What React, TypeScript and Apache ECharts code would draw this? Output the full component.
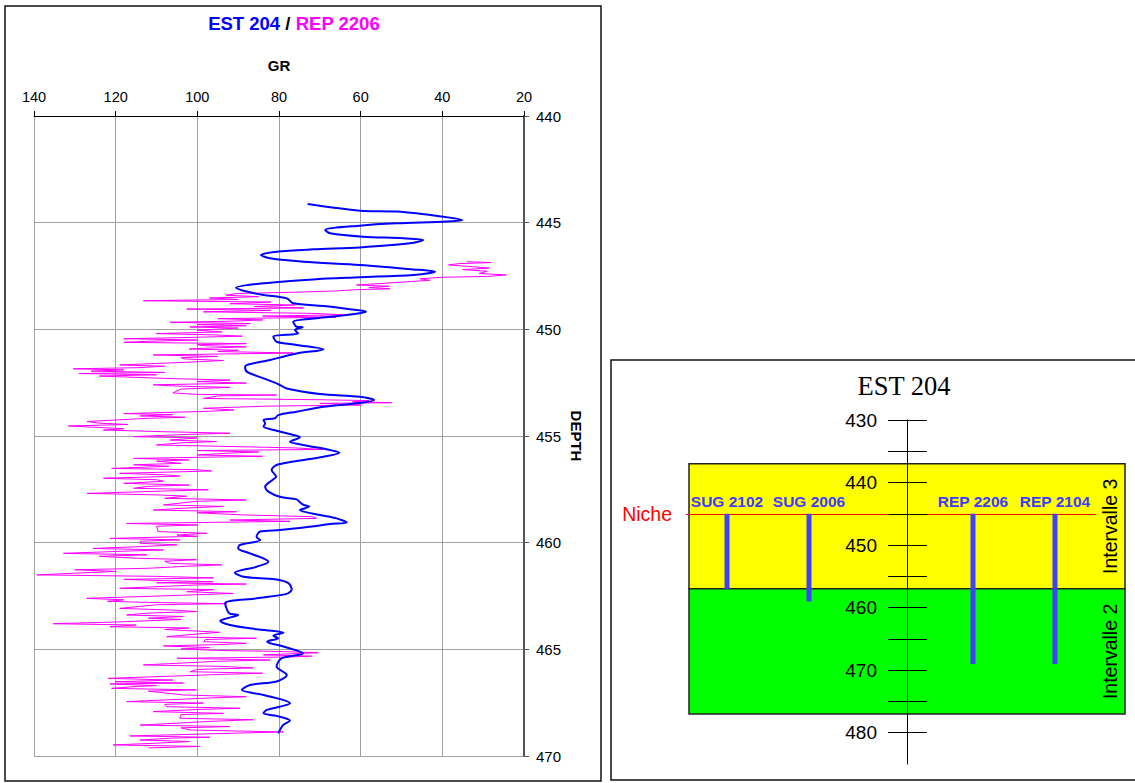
import React, { useEffect, useRef } from "react";
import * as echarts from "echarts";

// ---------- DATA ----------
// GR log axis ticks (inverted scale) and depth ticks
const grTicks = [20, 40, 60, 80, 100, 120, 140];
const depthTicks = [440, 445, 450, 455, 460, 465, 470];

// EST 204 GR log: [depth, GR]
const est204: [number, number][] = [
  [444.13, 73.0], [444.44, 60.2], [444.48, 51.2], [444.72, 39.8], [444.88, 35.1], [444.95, 38.9],
  [445.03, 51.2], [445.14, 60.2], [445.34, 68.7], [445.5, 67.5], [445.66, 59.4], [445.73, 49.6],
  [445.81, 44.7], [445.97, 47.9], [446.16, 60.2], [446.25, 71.6], [446.36, 80.6], [446.52, 84.4],
  [446.67, 82.2], [446.83, 74.0], [446.98, 60.2], [447.19, 47.1], [447.3, 41.8], [447.45, 47.1],
  [447.56, 60.2], [447.66, 71.6], [447.84, 83.8], [448.05, 90.5], [448.23, 87.9], [448.39, 83.8],
  [448.55, 78.1], [448.78, 76.5], [448.91, 69.1], [449.06, 62.6], [449.17, 58.7], [449.33, 63.4],
  [449.48, 70.8], [449.64, 76.5], [449.88, 75.7], [449.9, 74.2], [450.03, 76.1], [450.19, 75.3],
  [450.34, 81.4], [450.58, 80.6], [450.73, 75.7], [450.94, 69.1], [451.13, 75.7], [451.44, 82.2],
  [451.75, 88.3], [451.98, 87.9], [452.3, 83.8], [452.53, 80.6], [452.77, 78.1], [453.03, 70.0],
  [453.16, 60.2], [453.31, 56.7], [453.47, 61.0], [453.63, 69.1], [453.86, 75.7], [454.02, 80.2],
  [454.17, 81.0], [454.25, 83.8], [454.41, 83.4], [454.56, 83.8], [454.75, 80.6], [454.95, 76.5],
  [455.06, 74.9], [455.27, 77.3], [455.42, 74.0], [455.66, 67.5], [455.78, 65.2], [455.97, 69.1],
  [456.2, 76.5], [456.36, 80.6], [456.59, 81.8], [456.91, 80.7], [457.03, 81.4], [457.38, 83.4],
  [457.61, 82.6], [457.85, 79.8], [457.97, 75.7], [458.08, 75.0], [458.23, 74.0], [458.31, 72.6],
  [458.47, 74.9], [458.7, 70.0], [458.86, 65.9], [459.05, 63.4], [459.13, 67.5], [459.25, 72.4],
  [459.41, 79.8], [459.48, 84.6], [459.72, 85.5], [459.88, 84.6], [460.11, 89.6], [460.27, 90.0],
  [460.5, 87.1], [460.89, 82.6], [461.13, 85.5], [461.41, 90.8], [461.6, 88.7], [461.72, 81.0],
  [461.9, 77.7], [462.19, 76.9], [462.4, 78.1], [462.61, 85.5], [462.84, 93.2], [463.31, 92.2],
  [463.39, 90.0], [463.55, 92.8], [463.66, 94.4], [463.86, 92.0], [464.06, 85.5], [464.22, 78.9],
  [464.36, 81.4], [464.48, 80.2], [464.64, 82.9], [464.87, 78.9], [465.19, 74.1], [465.42, 79.4],
  [465.81, 80.6], [466.2, 78.1], [466.51, 80.6], [466.67, 87.1], [466.91, 89.1], [467.14, 83.8],
  [467.53, 77.3], [467.84, 83.0], [468.0, 83.8], [468.12, 80.6], [468.34, 77.3], [468.55, 79.0],
  [468.94, 80.2],
];

// REP 2206 GR log: [depth, GR]
const rep2206: [number, number][] = [
  [446.83, 34.0], [446.87, 28.0], [446.92, 36.0], [446.98, 38.5],
  [447.06, 33.0], [447.13, 28.5], [447.2, 35.0], [447.28, 29.0],
  [447.38, 31.0], [447.45, 24.3], [447.52, 29.0], [447.56, 40.0],
  [447.63, 45.5], [447.7, 43.0],
  [447.85, 55.0], [447.92, 61.0], [447.98, 53.0], [448.04, 58.0], [448.1, 52.8], [448.14, 61.0],
  [448.2, 66.0], [448.26, 76.0], [448.32, 90.4],
  [448.4, 93.0], [448.47, 85.0], [448.53, 97.0], [448.6, 90.0],
  [448.66, 113.2], [448.72, 82.0],
  [448.8, 92.0], [448.86, 76.0], [448.93, 86.0], [449.0, 74.0],
  [449.05, 102.6], [449.11, 82.0],
  [449.18, 98.5], [449.25, 72.0], [449.32, 64.3],
  [449.38, 84.0], [449.43, 66.0],
  [449.5, 95.0], [449.56, 84.0], [449.62, 92.0],
  [449.67, 106.7], [449.73, 87.0], [449.78, 100.0],
  [449.83, 88.0], [449.89, 101.8], [449.94, 90.0],
  [450.04, 100.0], [450.12, 94.0],
  [450.2, 110.0], [450.26, 96.0], [450.32, 89.0], [450.39, 104.0],
  [450.44, 118.0], [450.5, 100.0], [450.56, 112.0],
  [450.61, 118.0], [450.67, 88.0], [450.72, 100.0],
  [450.77, 98.0], [450.82, 88.0], [450.87, 96.0],
  [450.92, 102.0], [450.98, 90.0], [451.04, 95.0], [451.11, 76.5],
  [451.2, 110.8], [451.27, 95.0], [451.33, 104.0],
  [451.39, 103.0], [451.46, 93.6], [451.54, 102.0],
  [451.6, 110.0], [451.67, 119.0], [451.73, 108.0], [451.8, 115.0],
  [451.85, 130.4], [451.9, 118.0], [451.96, 126.0], [452.02, 108.0],
  [452.07, 129.0], [452.13, 110.0], [452.19, 124.0],
  [452.3, 108.0], [452.38, 92.0], [452.45, 100.0], [452.52, 88.0],
  [452.6, 110.8], [452.66, 105.0], [452.72, 92.0], [452.8, 104.0],
  [452.98, 106.0], [453.05, 100.0], [453.08, 80.6], [453.12, 95.0],
  [453.24, 98.5], [453.3, 70.0], [453.34, 58.0], [453.4, 62.0], [453.44, 52.4], [453.47, 70.0],
  [453.55, 60.0], [453.6, 83.0],
  [453.7, 98.5], [453.78, 91.0], [453.84, 97.0],
  [453.95, 118.0], [454.0, 106.0], [454.06, 114.0], [454.12, 103.0], [454.17, 112.0],
  [454.25, 120.0], [454.32, 127.0], [454.4, 124.0], [454.46, 117.0], [454.53, 131.6],
  [454.6, 124.0], [454.66, 118.0], [454.72, 123.0],
  [454.8, 108.0], [454.87, 92.0], [454.93, 103.0],
  [455.03, 115.6], [455.09, 100.0],
  [455.19, 106.7], [455.26, 95.3], [455.32, 104.0],
  [455.42, 110.0], [455.5, 90.0], [455.56, 76.0], [455.63, 69.1],
  [455.68, 100.0], [455.75, 85.0], [455.8, 92.0],
  [455.89, 100.0], [455.95, 84.0],
  [456.05, 115.6], [456.12, 102.0], [456.18, 110.0],
  [456.28, 104.0], [456.35, 115.6], [456.42, 107.0],
  [456.52, 121.0], [456.58, 100.0], [456.64, 96.5],
  [456.75, 119.0], [456.82, 108.0], [456.88, 104.3],
  [456.98, 123.0], [457.05, 110.0], [457.12, 108.3],
  [457.22, 118.0], [457.3, 102.0], [457.36, 112.0],
  [457.45, 115.6], [457.52, 97.3], [457.58, 108.0],
  [457.69, 127.0], [457.76, 110.0], [457.82, 102.6],
  [457.92, 108.0], [458.0, 88.0], [458.06, 100.0],
  [458.23, 108.3], [458.3, 93.6], [458.37, 102.0],
  [458.47, 110.8], [458.55, 90.4], [458.6, 100.0],
  [458.7, 88.7], [458.78, 72.0], [458.86, 70.8],
  [458.94, 92.0], [459.0, 77.3],
  [459.1, 117.3], [459.17, 100.0], [459.23, 110.0],
  [459.48, 109.6], [459.56, 97.7], [459.64, 105.0], [459.7, 100.0],
  [459.8, 121.4], [459.87, 104.3], [459.93, 114.0],
  [460.03, 114.0], [460.1, 105.0], [460.17, 112.0],
  [460.27, 125.5], [460.34, 108.3], [460.4, 118.0],
  [460.5, 132.8], [460.57, 112.4], [460.64, 124.0],
  [460.73, 114.9], [460.8, 100.2], [460.87, 108.0],
  [460.97, 106.7], [461.04, 94.0], [461.1, 102.0],
  [461.2, 112.0], [461.27, 130.0], [461.35, 120.0], [461.43, 130.0], [461.51, 139.3],
  [461.58, 110.0], [461.65, 96.0], [461.72, 118.0],
  [461.78, 108.3], [461.83, 96.1],
  [461.88, 110.0], [461.94, 88.0], [461.98, 100.0],
  [462.14, 119.0], [462.2, 96.0],
  [462.3, 102.6], [462.38, 91.2], [462.44, 100.0],
  [462.61, 127.1], [462.68, 118.0], [462.75, 122.0],
  [462.8, 112.0], [462.86, 92.8], [462.91, 110.0],
  [463.08, 119.0], [463.16, 106.0], [463.23, 100.2], [463.3, 112.0],
  [463.39, 117.3], [463.46, 103.4], [463.54, 112.0], [463.6, 104.0],
  [463.72, 120.0], [463.8, 135.3], [463.86, 115.0],
  [463.94, 121.4], [464.0, 102.0], [464.07, 108.0],
  [464.12, 102.6], [464.2, 94.5], [464.28, 100.0],
  [464.41, 107.5], [464.48, 85.5], [464.54, 98.0],
  [464.64, 98.5], [464.72, 88.0], [464.78, 95.0],
  [464.84, 108.3], [464.92, 97.0], [464.98, 104.0],
  [465.05, 95.3], [465.1, 80.0], [465.16, 70.4],
  [465.26, 83.8], [465.32, 72.0], [465.36, 78.0],
  [465.42, 105.0], [465.5, 82.2], [465.56, 95.0],
  [465.73, 113.2], [465.8, 94.0], [465.87, 86.3], [465.94, 100.0],
  [466.05, 101.8], [466.12, 84.0], [466.18, 95.0],
  [466.36, 121.8], [466.44, 106.0], [466.52, 120.0], [466.58, 103.4],
  [466.62, 121.4], [466.7, 110.0], [466.74, 115.0],
  [466.83, 121.0], [466.9, 100.2], [466.96, 112.0],
  [467.14, 103.4], [467.22, 88.0], [467.28, 97.0],
  [467.45, 117.3], [467.52, 98.5], [467.58, 108.0],
  [467.69, 107.5], [467.76, 89.6], [467.82, 100.0],
  [467.92, 110.8], [468.0, 93.6], [468.06, 104.0],
  [468.23, 104.3], [468.3, 86.3], [468.37, 96.0],
  [468.55, 114.0], [468.62, 92.0], [468.68, 104.0],
  [468.78, 101.8], [468.83, 90.0], [468.87, 78.9],
  [469.06, 116.5], [469.12, 97.0], [469.16, 106.0],
  [469.25, 114.0], [469.32, 101.8], [469.4, 110.0],
  [469.48, 120.6], [469.55, 99.4], [469.62, 112.0],
];

// Right-hand scheme (EST 204)
const schemeTicks = [430, 435, 440, 445, 450, 455, 460, 465, 470, 475, 480];
const schemeLabels = [430, 440, 450, 460, 470, 480];
const intervalNames = ["Intervalle 3", "Intervalle 2"];
const intervalTops = [437, 457];
const intervalBottoms = [457, 477];
const nicheDepth = 445;
const wellSlots = ["SUG 2102", "SUG 2006", "", "REP 2206", "REP 2104"];
const wellNames = ["SUG 2102", "SUG 2006", "REP 2206", "REP 2104"];
const wellBottoms = [457, 459, 469, 469];

const SANS = "'Liberation Sans', Arial, sans-serif";
const SERIF = "'Liberation Serif', 'Times New Roman', serif";

export default function App() {
  const ref = useRef<HTMLDivElement>(null);

  useEffect(() => {
    if (!ref.current) return;
    const chart = echarts.init(ref.current, undefined, { renderer: "svg" });
    const intervalColors = ["#ffff00", "#00ff00"];

    const option: any = {
      animation: false,
      backgroundColor: "#ffffff",
      grid: [
        { left: 34, top: 116, width: 490, height: 640 },
        { left: 689, top: 420, width: 436, height: 344 },
        { left: 686, top: 420, width: 410, height: 344 },
      ],
      xAxis: [
        {
          type: "value",
          gridIndex: 0,
          position: "top",
          inverse: true,
          min: grTicks[0],
          max: grTicks[grTicks.length - 1],
          interval: 20,
          name: "GR",
          nameLocation: "middle",
          nameGap: 43,
          nameTextStyle: { fontFamily: SANS, fontWeight: "bold", fontSize: 15, color: "#000" },
          axisLine: { show: true, onZero: false, lineStyle: { color: "#000", width: 1 } },
          axisTick: { show: true, length: 5, lineStyle: { color: "#000" } },
          axisLabel: { fontFamily: SANS, fontSize: 14.5, color: "#000", margin: 12 },
          splitLine: { show: true, lineStyle: { color: "#a0a0a0", width: 1 } },
        },
        { type: "value", gridIndex: 1, min: 0, max: 100, show: false },
        { type: "category", gridIndex: 2, data: wellSlots, show: false },
      ],
      yAxis: [
        {
          type: "value",
          gridIndex: 0,
          position: "right",
          inverse: true,
          min: depthTicks[0],
          max: depthTicks[depthTicks.length - 1],
          interval: 5,
          name: "DEPTH",
          nameLocation: "middle",
          nameRotate: -90,
          nameGap: 45,
          nameTextStyle: { fontFamily: SANS, fontWeight: "bold", fontSize: 15, color: "#000" },
          axisLine: { show: true, onZero: false, lineStyle: { color: "#555", width: 2 } },
          axisTick: { show: true, length: 5, lineStyle: { color: "#555" } },
          axisLabel: { fontFamily: SANS, fontSize: 15, color: "#000", margin: 12 },
          splitLine: { show: true, lineStyle: { color: "#a0a0a0", width: 1 } },
        },
        {
          type: "value",
          gridIndex: 1,
          position: "left",
          offset: -218,
          inverse: true,
          min: 430,
          max: 485,
          interval: 5,
          z: 10,
          axisLine: { show: true, onZero: false, lineStyle: { color: "#000", width: 1 } },
          axisTick: { show: true, length: 19, customValues: schemeTicks, lineStyle: { color: "#000" } },
          axisLabel: { fontFamily: SANS, fontSize: 19, color: "#000", margin: 30, customValues: schemeLabels },
          splitLine: { show: false },
        },
        {
          type: "value",
          gridIndex: 1,
          position: "right",
          offset: -218,
          inverse: true,
          min: 430,
          max: 485,
          interval: 5,
          z: 10,
          axisLine: { show: false, onZero: false },
          axisTick: { show: true, length: 20, customValues: schemeTicks, lineStyle: { color: "#000" } },
          axisLabel: { show: false },
          splitLine: { show: false },
        },
        { type: "value", gridIndex: 2, inverse: true, min: 430, max: 485, show: false },
      ],
      series: [
        {
          name: "REP 2206",
          type: "line",
          xAxisIndex: 0,
          yAxisIndex: 0,
          data: rep2206.map(([d, g]) => [g, d]),
          symbol: "none",
          lineStyle: { color: "#ff00ff", width: 1 },
          itemStyle: { color: "#ff00ff" },
          z: 3,
        },
        {
          name: "EST 204",
          type: "line",
          xAxisIndex: 0,
          yAxisIndex: 0,
          data: est204.map(([d, g]) => [g, d]),
          symbol: "none",
          smooth: 0.3,
          lineStyle: { color: "#0000ff", width: 2 },
          itemStyle: { color: "#0000ff" },
          z: 4,
        },
        {
          name: "intervals",
          type: "custom",
          coordinateSystem: "cartesian2d",
          xAxisIndex: 1,
          yAxisIndex: 1,
          data: intervalTops.map((t, i) => [t, intervalBottoms[i]]),
          encode: { y: [0, 1] },
          z: 1,
          renderItem: (params: any, api: any) => {
            const i = params.dataIndex;
            const p1 = api.coord([0, api.value(0)]);
            const p2 = api.coord([100, api.value(1)]);
            return {
              type: "group",
              children: [
                {
                  type: "rect",
                  shape: { x: p1[0], y: p1[1], width: p2[0] - p1[0], height: p2[1] - p1[1] },
                  style: { fill: intervalColors[i], stroke: "#222", lineWidth: 1.5 },
                },
                {
                  type: "text",
                  x: p2[0] - 15,
                  y: (p1[1] + p2[1]) / 2,
                  rotation: Math.PI / 2,
                  style: {
                    text: intervalNames[i],
                    fontFamily: SANS,
                    fontSize: 19.5,
                    fill: "#000",
                    align: "center",
                    verticalAlign: "middle",
                  },
                },
              ],
            };
          },
        },
        {
          name: "wells",
          type: "custom",
          coordinateSystem: "cartesian2d",
          xAxisIndex: 2,
          yAxisIndex: 3,
          data: wellNames.map((n, i) => [wellSlots.indexOf(n), nicheDepth, wellBottoms[i]]),
          encode: { x: 0, y: [1, 2] },
          z: 5,
          renderItem: (params: any, api: any) => {
            const i = params.dataIndex;
            const p1 = api.coord([api.value(0), api.value(1)]);
            const p2 = api.coord([api.value(0), api.value(2)]);
            return {
              type: "group",
              children: [
                {
                  type: "rect",
                  shape: { x: p1[0] - 2.5, y: p1[1], width: 5, height: p2[1] - p1[1] },
                  style: { fill: "#4040ff" },
                },
                {
                  type: "text",
                  x: p1[0],
                  y: p1[1] - 12,
                  style: {
                    text: wellNames[i],
                    fontFamily: SANS,
                    fontWeight: "bold",
                    fontSize: 15.5,
                    fill: "#3c3cff",
                    align: "center",
                    verticalAlign: "middle",
                  },
                },
              ],
            };
          },
        },
        {
          name: "niche",
          type: "line",
          xAxisIndex: 2,
          yAxisIndex: 3,
          data: [],
          z: 6,
          markLine: {
            silent: true,
            symbol: "none",
            data: [{ yAxis: nicheDepth }],
            lineStyle: { color: "#ff0000", width: 1, type: "solid" },
            label: {
              show: true,
              position: "start",
              formatter: "Niche",
              color: "#ff0000",
              fontFamily: SANS,
              fontSize: 19.5,
              distance: 14,
            },
          },
        },
      ],
      graphic: [
        {
          type: "rect",
          shape: { x: 5, y: 6, width: 596, height: 775 },
          style: { fill: "none", stroke: "#111", lineWidth: 1.5 },
          silent: true,
          z: 100,
        },
        {
          type: "rect",
          shape: { x: 611, y: 360, width: 540, height: 420 },
          style: { fill: "none", stroke: "#111", lineWidth: 1.5 },
          silent: true,
          z: 100,
        },
        {
          type: "text",
          x: 294,
          y: 23,
          style: {
            text: "{a|EST 204 }{s|/}{b| REP 2206}",
            align: "center",
            verticalAlign: "middle",
            rich: {
              a: { fontFamily: SANS, fontWeight: "bold", fontSize: 18.5, fill: "#0000ff", color: "#0000ff" },
              s: { fontFamily: SANS, fontWeight: "bold", fontSize: 18.5, fill: "#000", color: "#000" },
              b: { fontFamily: SANS, fontWeight: "bold", fontSize: 18.5, fill: "#ff00ff", color: "#ff00ff" },
            },
          },
          z: 100,
        },
        {
          type: "text",
          x: 904,
          y: 386,
          style: {
            text: "EST 204",
            fontFamily: SERIF,
            fontSize: 26.5,
            fill: "#000",
            align: "center",
            verticalAlign: "middle",
          },
          z: 100,
        },
      ],
    };

    chart.setOption(option);
    return () => chart.dispose();
  }, []);

  return (
    <div
      ref={ref}
      style={{ position: "fixed", left: 0, top: 0, width: 1135, height: 783, background: "#fff" }}
    />
  );
}
